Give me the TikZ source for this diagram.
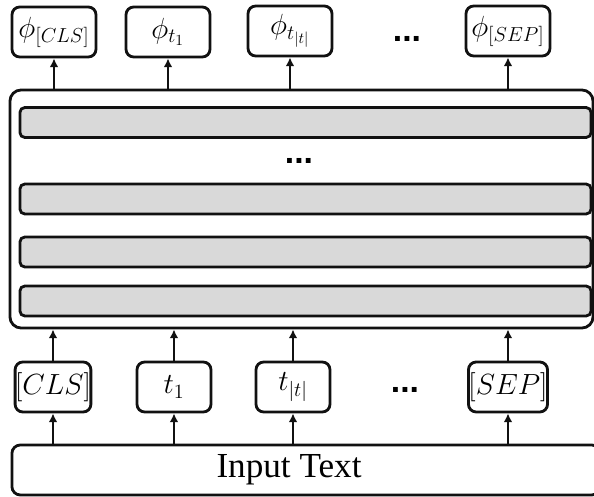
\documentclass[tikz,border=0pt]{standalone}
\usepackage{fontspec}
\setmainfont{Liberation Serif}
\usepackage{tikz}
\usetikzlibrary{arrows.meta,positioning}
\definecolor{encgray}{HTML}{D9D9D9}
\definecolor{encink}{HTML}{111111}
\tikzset{
  bx/.style={rounded corners=5.5pt, draw=encink, line width=2pt, inner sep=0pt, align=center},
  outtok/.style={bx, minimum width=2.1cm, minimum height=1.25cm, font=\fontsize{22}{24}\selectfont},
  intok/.style={bx, minimum width=1.85cm, minimum height=1.25cm, font=\fontsize{20}{22}\selectfont},
  enc/.style={bx, rounded corners=8pt, minimum width=14.575cm, minimum height=5.95cm},
  layer/.style={bx, rounded corners=3.5pt, fill=encgray, minimum width=14.275cm, minimum height=0.75cm},
  inbox/.style={bx, rounded corners=6pt, minimum width=14.7cm, minimum height=1.25cm},
  dots/.style={inner sep=0pt, font=\fontsize{24}{24}\sffamily\bfseries},
  arr/.style={-{Latex[length=2.2mm,width=2.2mm]}, line width=1.8pt, color=encink},
}
\setsansfont{Liberation Sans}

\begin{document}
\begin{tikzpicture}[x=0.025cm, y=-0.025cm]
    \useasboundingbox (0,0) rectangle (594,497);
    \clip (0,0) rectangle (594,497);
    % output embeddings
    \node[outtok] (oCLS) at (54,32) {$\phi_{[CLS]}$};
    \node[outtok] (oT1) at (168,32) {$\phi_{t_1}$};
    \node[outtok] (oTT) at (290,31) {$\phi_{t_{|t|}}$};
    \node[dots] (odots) at (407,39) {...};
    \node[outtok] (oSEP) at (508,31) {$\phi_{[SEP]}$};
    % encoder stack
    \node[enc] (enc) at (301.5,209) {};
    \node[layer] (l1) at (305.5,122.5) {};
    \node[dots] (ldots) at (299,161) {...};
    \node[layer] (l2) at (305.5,199) {};
    \node[layer] (l3) at (305.5,252) {};
    \node[layer] (l4) at (305.5,301) {};
    % input tokens
    \node[intok] (iCLS) at (53,387) {$[CLS]$};
    \node[intok] (iT1) at (174,387) {$t_1$};
    \node[intok] (iTT) at (293,387) {$t_{|t|}$};
    \node[dots] (idots) at (405,390) {...};
    \node[intok] (iSEP) at (508,387) {$[SEP]$};
    \node[inbox] (input) at (306,470) {};
    \node[font=\fontsize{25}{27}\selectfont, inner sep=0pt] (inlbl) at (289,470) {Input Text};
    % arrows
    \foreach \t in {oCLS,oT1,oTT,oSEP} \draw[arr] (enc.north -| \t.south) -- (\t.south);
    \foreach \t in {iCLS,iT1,iTT,iSEP} {
      \draw[arr] (\t.north) -- (\t.north |- enc.south);
      \draw[arr] (input.north -| \t.south) -- (\t.south);
    }
\end{tikzpicture}
\end{document}
